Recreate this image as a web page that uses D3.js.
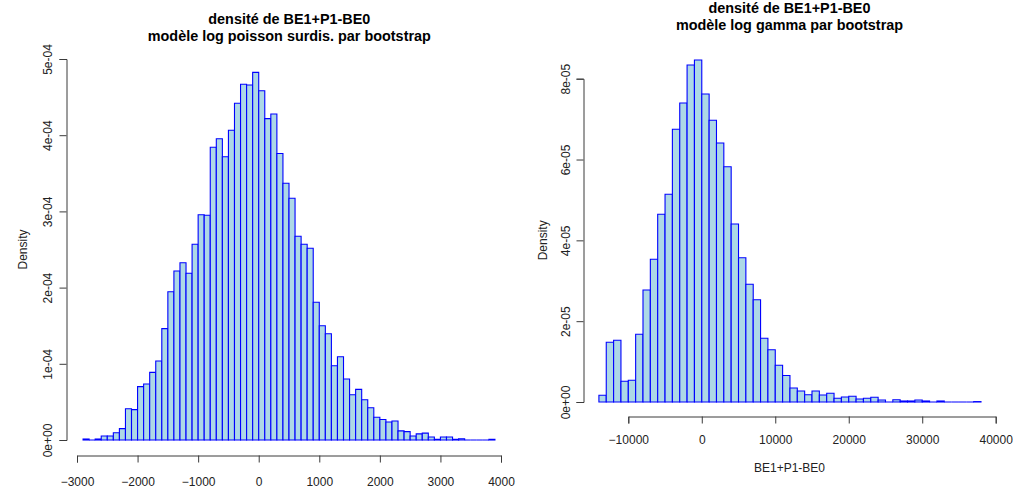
<!DOCTYPE html>
<html>
<head>
<meta charset="utf-8">
<script src="https://cdn.jsdelivr.net/npm/d3@7"></script>
<style>
  html, body { margin: 0; padding: 0; background: #fff; }
  svg { display: block; font-family: "Liberation Sans", Arial, sans-serif; }
</style>
</head>
<body>
<svg id="chart" width="1013" height="489"></svg>
<script>
// ---------------- DATA ----------------
// Left histogram: bins of width 100 starting at -2900
const leftBinStart = -2900;
const leftBinWidth = 100;
const leftDensity = [
  0.013e-4, 0, 0.013e-4, 0.052e-4, 0.052e-4, 0.096e-4, 0.149e-4, 0.411e-4, 0.398e-4, 0.70e-4,
  0.735e-4, 0.888e-4, 1.037e-4, 1.461e-4, 1.946e-4, 2.218e-4, 2.327e-4, 2.188e-4, 2.568e-4, 2.957e-4,
  2.949e-4, 3.841e-4, 3.954e-4, 3.718e-4, 4.064e-4, 4.419e-4, 4.668e-4, 4.659e-4, 4.825e-4,
  4.584e-4, 4.217e-4, 4.278e-4, 3.760e-4, 3.369e-4, 3.172e-4, 2.673e-4, 2.568e-4, 2.516e-4, 1.807e-4,
  1.500e-4, 1.395e-4, 0.975e-4, 1.093e-4, 0.801e-4, 0.594e-4, 0.665e-4, 0.529e-4, 0.424e-4, 0.298e-4,
  0.27e-4, 0.236e-4, 0.25e-4, 0.12e-4, 0.11e-4, 0.052e-4, 0.08e-4, 0.09e-4, 0.04e-4, 0.009e-4,
  0.039e-4, 0.039e-4, 0.009e-4, 0.017e-4, 0, 0, 0, 0, 0.009e-4
];
const leftXTicks = [-3000, -2000, -1000, 0, 1000, 2000, 3000, 4000];
const leftYTicks = [0, 1e-4, 2e-4, 3e-4, 4e-4, 5e-4];
const leftTitle = ["densité de BE1+P1-BE0", "modèle log poisson surdis. par bootstrap"];

// Right histogram: bins of width 1000 starting at -14000
const rightBinStart = -14000;
const rightBinWidth = 1000;
const rightDensity = [
  0.166e-5, 1.477e-5, 1.527e-5, 0.512e-5, 0.537e-5, 1.675e-5, 2.772e-5, 3.531e-5, 4.645e-5, 5.140e-5,
  6.748e-5, 7.399e-5, 8.340e-5, 8.463e-5, 7.622e-5, 6.971e-5, 6.409e-5, 5.823e-5, 4.405e-5, 3.571e-5,
  2.913e-5, 2.532e-5, 1.576e-5, 1.292e-5, 0.908e-5, 0.656e-5, 0.346e-5, 0.272e-5, 0.181e-5, 0.272e-5,
  0.173e-5, 0.215e-5, 0.092e-5, 0.124e-5, 0.141e-5, 0.074e-5, 0.092e-5, 0.116e-5, 0.049e-5, 0,
  0.057e-5, 0.025e-5, 0.025e-5, 0.049e-5, 0.025e-5, 0, 0.025e-5, 0, 0, 0,
  0, 0.01e-5
];
const rightXTicks = [-10000, 0, 10000, 20000, 30000, 40000];
const rightYTicks = [0, 2e-5, 4e-5, 6e-5, 8e-5];
const rightTitle = ["densité de BE1+P1-BE0", "modèle log gamma par bootstrap"];
const yLabel = "Density";
const xLabel = "BE1+P1-BE0";

// ---------------- DRAW ----------------
const svg = d3.select("#chart");
const fillCol = "#ADD8E6", strokeCol = "#0000FF", axisCol = "#3a3a3a", textCol = "#222";

function sciFmt(v) {
  if (v === 0) return "0e+00";
  const e = Math.floor(Math.log10(v) + 1e-9);
  const m = Math.round(v / Math.pow(10, e));
  const sign = e < 0 ? "-" : "+";
  const ae = Math.abs(e);
  return m + "e" + sign + (ae < 10 ? "0" + ae : ae);
}

function drawPanel(cfg) {
  const g = svg.append("g");
  const x = d3.scaleLinear().domain(cfg.xDomain).range(cfg.xRange);
  const y = d3.scaleLinear().domain(cfg.yDomain).range(cfg.yRange);

  const bins = cfg.density.map((d, i) => ({
    x0: cfg.binStart + i * cfg.binWidth,
    x1: cfg.binStart + (i + 1) * cfg.binWidth,
    d: d
  }));

  // bars drawn as closed paths so that empty bins still show their outline
  g.selectAll("path.bar").data(bins).enter().append("path")
    .attr("class", "bar")
    .attr("d", b => {
      const p = d3.path();
      p.moveTo(x(b.x0), y(0));
      p.lineTo(x(b.x0), y(b.d));
      p.lineTo(x(b.x1), y(b.d));
      p.lineTo(x(b.x1), y(0));
      p.closePath();
      return p.toString();
    })
    .attr("fill", fillCol)
    .attr("stroke", strokeCol)
    .attr("stroke-width", 1.1);

  // x axis
  const xa = g.append("g").attr("transform", `translate(0,${cfg.xAxisY})`)
    .call(d3.axisBottom(x).tickValues(cfg.xTicks).tickSizeOuter(0).tickSize(7).tickFormat(d3.format("d")));
  xa.select(".domain").attr("stroke", axisCol);
  xa.selectAll(".tick line").attr("stroke", axisCol);
  xa.selectAll("text").attr("fill", textCol).style("font-size", "12px")
    .attr("y", cfg.xLabelOffset).attr("dy", 0);

  // y axis
  const ya = g.append("g").attr("transform", `translate(${cfg.yAxisX},0)`)
    .call(d3.axisLeft(y).tickValues(cfg.yTicks).tickSizeOuter(0).tickSize(7).tickFormat(sciFmt));
  ya.select(".domain").attr("stroke", axisCol);
  ya.selectAll(".tick line").attr("stroke", axisCol);
  ya.selectAll("text").attr("fill", textCol).style("font-size", "12px")
    .attr("x", 0).attr("dy", 0).attr("text-anchor", "middle")
    .attr("transform", `translate(${cfg.yLabelOffset},0) rotate(-90)`);

  // y label
  g.append("text")
    .attr("transform", `translate(${cfg.yTitleX},${(cfg.yRange[0] + cfg.yRange[1]) / 2}) rotate(-90)`)
    .attr("text-anchor", "middle")
    .attr("fill", textCol).style("font-size", "12px")
    .text(yLabel);

  // x label
  if (cfg.xTitleY) {
    g.append("text")
      .attr("x", cfg.centerX).attr("y", cfg.xTitleY)
      .attr("text-anchor", "middle")
      .attr("fill", textCol).style("font-size", "12px")
      .text(xLabel);
  }

  // title
  cfg.title.forEach((t, i) => {
    g.append("text")
      .attr("x", cfg.centerX).attr("y", cfg.titleY[i])
      .attr("text-anchor", "middle")
      .attr("fill", "#000").style("font-size", "14.4px").style("font-weight", "bold")
      .text(t);
  });
}

drawPanel({
  density: leftDensity, binStart: leftBinStart, binWidth: leftBinWidth,
  xDomain: [-3000, 4000], xRange: [77, 501],
  yDomain: [0, 5e-4], yRange: [440, 59],
  xTicks: leftXTicks, yTicks: leftYTicks,
  xAxisY: 455.5, yAxisX: 66.5, xLabelOffset: 30, yLabelOffset: -15,
  yTitleX: 27, xTitleY: null,
  centerX: 289.3, titleY: [24, 41], title: leftTitle
});

drawPanel({
  density: rightDensity, binStart: rightBinStart, binWidth: rightBinWidth,
  xDomain: [-10000, 40000], xRange: [628.3, 995.7],
  yDomain: [0, 8e-5], yRange: [402, 78.7],
  xTicks: rightXTicks, yTicks: rightYTicks,
  xAxisY: 416.5, yAxisX: 583.5, xLabelOffset: 27, yLabelOffset: -14,
  yTitleX: 547, xTitleY: 472,
  centerX: 789.5, titleY: [12.5, 29.5], title: rightTitle
});
</script>
</body>
</html>
